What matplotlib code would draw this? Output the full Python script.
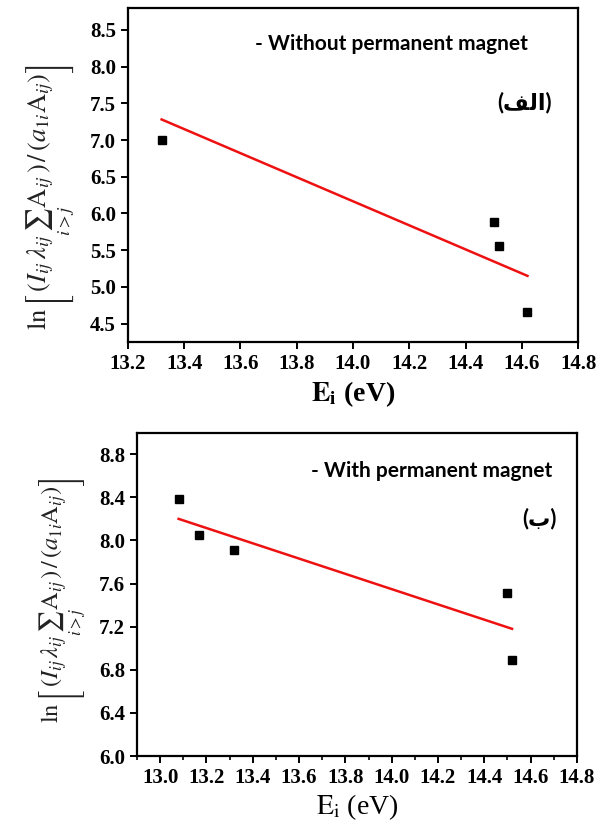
import numpy as np
import matplotlib
matplotlib.use('Agg')
import matplotlib.pyplot as plt
from matplotlib.ticker import MultipleLocator, FormatStrFormatter

# panel (alef): without permanent magnet
e_top = [13.32, 14.50, 14.52, 14.62]
ln_top = [7.00, 5.89, 5.55, 4.66]
fit_x_top = [13.32, 14.62]
fit_y_top = [7.28, 5.15]

# panel (beh): with permanent magnet
e_bot = [13.08, 13.17, 13.32, 14.50, 14.52]
ln_bot = [8.38, 8.05, 7.91, 7.51, 6.89]
fit_x_bot = [13.08, 14.52]
fit_y_bot = [8.20, 7.18]

titles = ['- Without permanent magnet', '- With permanent magnet']
# arabic labels "(الف)" and "(ب)" written in presentation forms, visual order
tags = ['(\uFED2\uFEDF\uFE8D)', '(\uFE8F)']

ylab = r'$\ln\left[\,(I_{ij}\,\lambda_{ij}\sum_{i>j}\mathrm{A}_{ij}\,)\,/\,(a_{1i}\mathrm{A}_{ij})\right]$'

plt.rcParams['font.family'] = 'Liberation Serif'

fig = plt.figure(figsize=(6.06, 8.25), dpi=100)
ax1 = fig.add_axes([0.211, 0.5855, 0.743, 0.405])
ax2 = fig.add_axes([0.226, 0.0836, 0.726, 0.392])


def style(ax):
    for s in ax.spines.values():
        s.set_linewidth(1.6)
    ax.tick_params(direction='out', length=5, width=1.4, labelsize=15)
    ax.tick_params(which='minor', direction='out', length=3, width=1.2)
    for lab in ax.get_xticklabels() + ax.get_yticklabels():
        lab.set_fontweight('bold')


# top
ax1.plot(e_top, ln_top, 's', color='black', markersize=6)
ax1.plot(fit_x_top, fit_y_top, color='#ee1111', lw=1.8)
ax1.set_xlim(13.2, 14.8)
ax1.set_ylim(4.25, 8.8)
ax1.set_xticks(np.arange(13.2, 14.81, 0.2))
ax1.set_yticks(np.arange(4.5, 8.51, 0.5))
ax1.xaxis.set_major_formatter(FormatStrFormatter('%.1f'))
ax1.yaxis.set_major_formatter(FormatStrFormatter('%.1f'))
style(ax1)
ax1.text(13.65, 8.31, titles[0], family=['Lato', 'DejaVu Sans'], fontweight='bold',
         fontsize=15, va='center', ha='left')
ax1.text(14.61, 7.51, tags[0], family=['Lato', 'DejaVu Sans'], fontweight='bold',
         fontsize=16, va='center', ha='center')
ax1.set_xlabel(r'$\mathbf{E}_{\mathbf{i}}$ (eV)', fontsize=20, fontweight='bold',
               math_fontfamily='stix', labelpad=4)
ax1.set_ylabel(ylab, fontsize=19, math_fontfamily='stix', color='#222222')
ax1.yaxis.set_label_coords(-0.113, 0.435)

# bottom
ax2.plot(e_bot, ln_bot, 's', color='black', markersize=6)
ax2.plot(fit_x_bot, fit_y_bot, color='#ee1111', lw=1.8)
ax2.set_xlim(12.9, 14.8)
ax2.set_ylim(6.0, 9.0)
ax2.set_xticks(np.arange(13.0, 14.81, 0.2))
ax2.set_yticks(np.arange(6.0, 8.81, 0.4))
ax2.xaxis.set_minor_locator(MultipleLocator(0.1))
ax2.xaxis.set_major_formatter(FormatStrFormatter('%.1f'))
ax2.yaxis.set_major_formatter(FormatStrFormatter('%.1f'))
style(ax2)
ax2.text(13.65, 8.64, titles[1], family=['Lato', 'DejaVu Sans'], fontweight='bold',
         fontsize=15, va='center', ha='left')
ax2.text(14.64, 8.2, tags[1], family=['Lato', 'DejaVu Sans'], fontweight='bold',
         fontsize=16, va='center', ha='center')
ax2.set_xlabel(r'$\mathrm{E}_{\mathrm{i}}$ (eV)', fontsize=20, math_fontfamily='stix', labelpad=3)
ax2.set_ylabel(ylab, fontsize=17.5, math_fontfamily='stix', color='#222222')
ax2.yaxis.set_label_coords(-0.111, 0.48)

fig.savefig('out.png', dpi=100)
